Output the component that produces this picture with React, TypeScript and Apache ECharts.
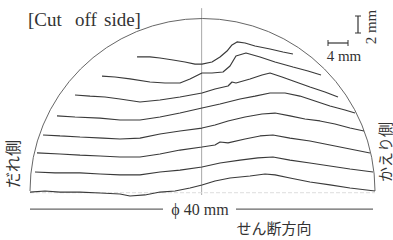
import React, { useEffect, useRef } from "react";
import * as echarts from "echarts";

// Profile lines (x, y in mm; x measured from the specimen centre, y above the cut diameter)
const PROFILE_1: [number, number][] = [
  [-7.59, 15.54], [-6.09, 15.54], [-4.93, 15.42], [-3.42, 15.19], [-2.03, 14.96], [-0.87, 14.72],
  [-0.06, 14.72], [1.1, 14.96], [2.03, 15.54], [2.84, 16.23], [3.42, 16.93], [4.0, 17.28],
  [4.93, 17.16], [6.09, 16.81], [7.83, 16.46], [9.33, 16.12], [10.49, 15.88],
];
const PROFILE_2: [number, number][] = [
  [-11.65, 13.33], [-10.14, 13.22], [-8.41, 12.99], [-6.09, 12.64], [-4.35, 12.52], [-2.61, 12.52],
  [-1.45, 12.99], [-0.06, 13.68], [1.1, 13.68], [2.38, 13.8], [3.19, 14.49], [3.88, 15.65],
  [5.04, 16.0], [6.67, 15.54], [8.41, 14.96], [10.49, 14.38], [12.23, 13.91], [13.74, 13.45],
];
const PROFILE_3: [number, number][] = [
  [-14.78, 11.13], [-13.04, 11.01], [-11.3, 10.9], [-9.57, 10.67], [-7.25, 10.32], [-4.93, 10.55],
  [-2.61, 10.9], [-0.06, 11.36], [1.45, 11.83], [2.96, 12.17], [3.42, 12.64], [3.88, 12.52],
  [5.51, 12.99], [6.9, 13.45], [7.83, 13.68], [9.22, 13.22], [10.84, 12.64], [12.46, 12.06],
  [14.2, 11.48], [15.71, 10.9],
];
const PROFILE_4: [number, number][] = [
  [-16.87, 8.7], [-14.78, 8.58], [-11.88, 8.46], [-9.57, 8.23], [-7.25, 8.23], [-4.93, 8.58],
  [-2.61, 9.04], [-0.06, 9.62], [2.03, 10.09], [4.35, 10.67], [6.09, 11.01], [7.83, 11.36],
  [9.57, 11.36], [11.3, 11.01], [13.04, 10.43], [14.78, 9.86], [16.52, 9.39], [17.68, 9.04],
];
const PROFILE_5: [number, number][] = [
  [-18.49, 6.49], [-16.52, 6.38], [-14.2, 6.26], [-11.54, 6.14], [-9.57, 6.03], [-7.25, 6.14],
  [-4.93, 6.61], [-2.61, 6.96], [-0.06, 7.3], [1.45, 7.65], [2.96, 8.12], [4.93, 8.58],
  [6.9, 8.93], [8.41, 9.04], [10.14, 8.7], [11.88, 8.35], [13.62, 8.12], [15.36, 7.77],
  [17.1, 7.3], [18.72, 6.96],
];
const PROFILE_6: [number, number][] = [
  [-19.19, 4.41], [-16.52, 4.29], [-14.2, 4.17], [-11.88, 4.06], [-9.57, 3.94], [-7.25, 3.94],
  [-4.93, 4.29], [-2.61, 4.75], [-0.06, 5.1], [1.45, 5.33], [2.03, 5.68], [2.96, 5.57],
  [4.93, 6.03], [6.67, 6.38], [8.17, 6.49], [10.14, 6.14], [12.46, 5.8], [14.78, 5.33],
  [17.1, 4.87], [19.42, 4.41],
];
const PROFILE_7: [number, number][] = [
  [-19.42, 2.2], [-17.1, 2.09], [-14.2, 2.09], [-11.88, 1.97], [-9.57, 1.86], [-7.25, 1.86],
  [-4.93, 2.2], [-2.61, 2.43], [-0.06, 2.78], [2.03, 3.25], [4.35, 3.59], [6.43, 3.83],
  [8.17, 3.94], [10.14, 3.59], [12.46, 3.25], [14.78, 2.9], [17.1, 2.55], [19.77, 2.2],
];
const PROFILE_8: [number, number][] = [
  [-20.0, -0.12], [-18.26, 0], [-16.52, -0.12], [-14.2, -0.12], [-11.88, -0.23], [-9.57, -0.35],
  [-8.41, -0.58], [-6.67, -0.46], [-4.93, -0.12], [-3.19, 0], [-1.45, 0.35], [-0.06, 0.7],
  [1.45, 1.16], [3.19, 1.51], [5.51, 1.74], [7.25, 1.97], [8.41, 1.86], [10.14, 1.51],
  [12.46, 1.04], [14.78, 0.7], [17.1, 0.35], [20.0, 0],
];
const PROFILES = [PROFILE_1, PROFILE_2, PROFILE_3, PROFILE_4, PROFILE_5, PROFILE_6, PROFILE_7, PROFILE_8];

const DIAMETER_MM = 40;
const CENTER_LINE: [number, number][] = [[-0.1, -0.46], [-0.1, 21.2]];
const BASE_LINE: [number, number][] = [[-20, -0.2], [20, -0.2]];
const DIM_LEFT: [number, number][] = [[-20, -2.09], [-4.58, -2.09]];
const DIM_RIGHT: [number, number][] = [[3.88, -2.09], [19.77, -2.09]];
const DIM_LABEL = "ϕ 40 mm";
const TITLE_WORDS = ["[Cut", "off", "side]"];

export default function App() {
  const ref = useRef<HTMLDivElement>(null);
  useEffect(() => {
    if (!ref.current) return;
    const chart = echarts.init(ref.current, undefined, { renderer: "svg" });
    const serif = "'Liberation Serif', 'DejaVu Serif', serif";
    const cjk = "'Noto Sans CJK JP', sans-serif";
    const ink = "#333";
    const lineSeries = (data: [number, number][], color: string, width: number, type: any = "solid", z = 3) => ({
      type: "line",
      data,
      showSymbol: false,
      symbol: "none",
      silent: true,
      lineStyle: { color, width, type },
      z,
      clip: false,
    });
    chart.setOption({
      animation: false,
      backgroundColor: "#ffffff",
      grid: { left: 30, width: 345, top: 1.25, height: 232.875 },
      xAxis: { type: "value", min: -DIAMETER_MM / 2, max: DIAMETER_MM / 2, show: false },
      yAxis: { type: "value", min: -5, max: 22, show: false },
      series: [
        {
          type: "custom",
          coordinateSystem: "cartesian2d",
          data: [[0, 0, DIAMETER_MM / 2]],
          silent: true,
          clip: false,
          z: 2,
          renderItem: (_p: any, api: any) => {
            const c = api.coord([api.value(0), api.value(1)]);
            const r = api.size([api.value(2), 0])[0];
            return {
              type: "arc",
              shape: { cx: c[0], cy: c[1], r, startAngle: Math.PI, endAngle: 2 * Math.PI, clockwise: true },
              style: { stroke: "#555", fill: "none", lineWidth: 0.9 },
            };
          },
        },
        lineSeries(CENTER_LINE, "#a8a8a8", 1, "solid", 1),
        lineSeries(BASE_LINE, "#dddddd", 1, "dashed", 1),
        lineSeries(DIM_LEFT, "#666", 1.2),
        lineSeries(DIM_RIGHT, "#666", 1.2),
        ...PROFILES.map((p) => lineSeries(p, "#3a3a3a", 1.2)),
      ],
      graphic: [
        { type: "text", x: 28, y: 19, style: { text: TITLE_WORDS[0], font: `19px ${serif}`, fill: ink, textVerticalAlign: "middle" } },
        { type: "text", x: 75, y: 19, style: { text: TITLE_WORDS[1], font: `19px ${serif}`, fill: ink, textVerticalAlign: "middle" } },
        { type: "text", x: 104, y: 19, style: { text: TITLE_WORDS[2], font: `19px ${serif}`, fill: ink, textVerticalAlign: "middle" } },
        // scale bars
        { type: "line", shape: { x1: 358, y1: 16, x2: 358, y2: 33 }, style: { stroke: ink, lineWidth: 1.2 } },
        { type: "line", shape: { x1: 355, y1: 16, x2: 361, y2: 16 }, style: { stroke: ink, lineWidth: 1 } },
        { type: "line", shape: { x1: 355, y1: 33, x2: 361, y2: 33 }, style: { stroke: ink, lineWidth: 1 } },
        { type: "line", shape: { x1: 328, y1: 43, x2: 348, y2: 43 }, style: { stroke: ink, lineWidth: 1.2 } },
        { type: "line", shape: { x1: 328, y1: 40, x2: 328, y2: 46 }, style: { stroke: ink, lineWidth: 1 } },
        { type: "line", shape: { x1: 348, y1: 40, x2: 348, y2: 46 }, style: { stroke: ink, lineWidth: 1 } },
        { type: "text", x: 371, y: 27, rotation: Math.PI / 2, style: { text: "2 mm", font: `15px ${serif}`, fill: ink, textAlign: "center", textVerticalAlign: "middle" } },
        { type: "text", x: 344, y: 56, style: { text: "4 mm", font: `15px ${serif}`, fill: ink, textAlign: "center", textVerticalAlign: "middle" } },
        { type: "text", x: 12, y: 164, rotation: Math.PI / 2, style: { text: "だれ側", font: `16px ${cjk}`, fill: ink, textAlign: "center", textVerticalAlign: "middle" } },
        { type: "text", x: 384, y: 152, rotation: Math.PI / 2, style: { text: "かえり側", font: `15px ${cjk}`, fill: ink, textAlign: "center", textVerticalAlign: "middle" } },
        { type: "text", x: 200, y: 209, style: { text: DIM_LABEL, font: `16px ${serif}`, fill: ink, textAlign: "center", textVerticalAlign: "middle" } },
        { type: "text", x: 274, y: 227, style: { text: "せん断方向", font: `15px ${cjk}`, fill: ink, textAlign: "center", textVerticalAlign: "middle" } },
      ],
    });
    return () => chart.dispose();
  }, []);
  return <div ref={ref} style={{ position: "fixed", left: 0, top: 0, width: 393, height: 240 }} />;
}
